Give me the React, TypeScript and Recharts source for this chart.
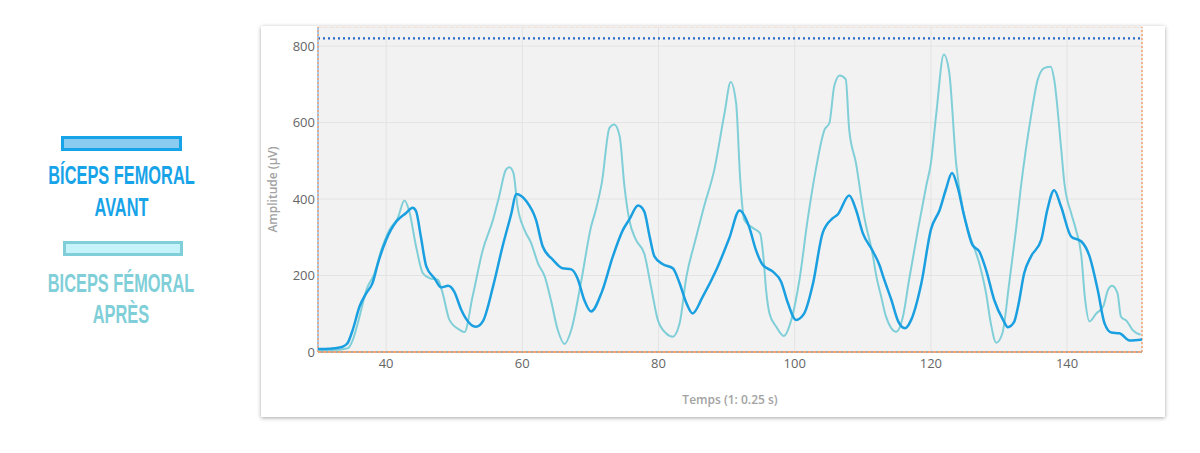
import {
  LineChart,
  Line,
  XAxis,
  YAxis,
  CartesianGrid,
  ReferenceLine,
} from "recharts";

// temps (1 unit = 0.25 s) and amplitude (µV)
const avantTime = [
  30, 31, 32.5, 33.5, 34.3, 35.1, 36.1, 37.1, 38.0, 38.8, 40.0, 41.5, 42.9, 43.9, 44.4,
  45.1, 45.9, 47.1, 48.1, 49.1, 50.0, 51.0, 51.7, 53.2, 54.2, 55.7, 57.1, 58.4, 59.1,
  60.6, 62.0, 63.0, 64.5, 65.9, 67.2, 68.1, 69.1, 70.1, 71.7, 73.3, 74.8, 75.7, 77.0,
  77.9, 78.7, 79.4, 80.6, 82.1, 83.1, 84.1, 85.0, 86.5, 88.5, 90.4, 91.9, 93.3, 94.3,
  95.3, 96.8, 98.0, 99.0, 100.2, 101.4, 102.7, 104.1, 105.6, 106.3, 108.0, 109.0,
  110.0, 111.5, 112.5, 113.0, 114.2, 115.2, 116.2, 117.1, 118.6, 120.0, 121.3, 122.2,
  123.1, 123.9, 124.9, 126.1, 127.1, 128.1, 129.3, 130.6, 131.3, 132.2, 132.8, 133.7,
  134.7, 136.2, 137.1, 138.1, 139.1, 140.6, 142.1, 143.3, 144.5, 145.5, 146.5, 147.7,
  149.2, 151,
];
const avantValue = [
  8, 8, 10, 13, 22, 58, 119, 154, 180, 232, 293, 341, 363, 377, 368,
  302, 224, 193, 169, 173, 158, 112, 88, 66, 80, 171, 276, 363, 413,
  394, 346, 276, 241, 219, 216, 193, 136, 106, 158, 250, 320, 346, 383,
  368, 302, 250, 230, 219, 180, 128, 101, 145, 215, 298, 370, 328, 267,
  228, 210, 184, 128, 84, 101, 180, 311, 350, 359, 409, 372,
  311, 263, 225, 197, 136, 80, 62, 84, 180, 320, 372, 425,
  468, 433, 355, 280, 263, 215, 136, 84, 65, 78, 119, 206,
  250, 293, 372, 423, 381, 302, 289, 250, 162, 75, 51, 49,
  30, 33,
];

const apresTime = [
  30, 32, 34.4, 35.1, 36.1, 37.1, 38.3, 39.3, 40.5, 41.7, 42.7, 43.4, 44.4, 45.4, 46.4,
  47.6, 48.3, 49.3, 50.8, 51.5, 52.7, 54.2, 55.7, 56.6, 57.6, 58.1, 58.7, 59.3, 60.3,
  61.3, 62.3, 63.3, 64.2, 65.2, 66.2, 67.2, 68.6, 70.1, 70.8, 71.7, 72.8, 73.5, 74.3,
  75.0, 75.7, 76.7, 77.9, 78.9, 79.9, 81.1, 82.1, 83.1, 84.1, 85.3, 86.7, 88.2, 89.7,
  90.6, 91.4, 92.0, 92.6, 93.9, 94.9, 95.4, 95.8, 96.3, 97.3, 98.4, 99.5, 100.7, 101.9,
  103.1, 104.4, 105.1, 105.8, 106.6, 107.5, 108.0, 109.0, 110.2, 111.5, 112.0, 112.7,
  113.4, 114.9, 115.9, 116.8, 118.1, 119.3, 120.0, 120.8, 121.9, 122.7, 123.7, 124.7,
  125.6, 127.1, 128.1, 128.8, 129.6, 130.5, 131.5, 132.5, 133.2, 134.7, 135.7, 136.7,
  137.6, 138.1, 139.1, 139.6, 140.6, 141.3, 142.1, 142.6, 143.3, 144.3, 145.3, 146.0,
  146.6, 147.4, 147.9, 148.8, 149.6, 150.8,
];
const apresValue = [
  5, 5, 10, 31, 93, 162, 206, 267, 320, 350, 396, 368, 276, 206, 193,
  189, 154, 84, 58, 52, 145, 267, 346, 407, 477, 483, 468, 381, 320,
  285, 232, 197, 136, 58, 21, 58, 180, 328, 372, 445, 586, 595, 564,
  433, 346, 293, 258, 171, 84, 49, 40, 75, 197, 285, 381, 477, 625,
  706, 650, 451, 345, 324, 311, 250, 162, 101, 66, 42, 84, 189, 346,
  477, 582, 599, 695, 723, 713, 582, 494, 355, 250, 197, 145,
  93, 53, 93, 189, 320, 433, 494, 625, 778, 730, 494, 372,
  311, 232, 154, 75, 24, 49, 180, 320, 429, 617, 713, 743,
  746, 713, 538, 442, 363, 320, 250, 145, 80, 101, 119, 162,
  173, 154, 93, 80, 58, 45,
];

const xTicks = [40, 60, 80, 100, 120, 140];
const yTicks = [0, 200, 400, 600, 800];
const threshold = 820;

const avantData = avantTime.map((t, i) => ({ t, v: avantValue[i] }));
const apresData = apresTime.map((t, i) => ({ t, v: apresValue[i] }));

const AVANT = "#1a9fe0";
const APRES = "#80cfd8";
const ORANGE = "#f4a472";

function YLabel(props: any) {
  const vb = props.viewBox;
  const x = vb.x + 11;
  const y = vb.y + vb.height / 2;
  return (
    <text
      x={x}
      y={y}
      transform={`rotate(-90, ${x}, ${y})`}
      textAnchor="middle"
      dominantBaseline="central"
      fill="#a3a3a3"
      fontSize={12}
      fontWeight={600}
    >
      Amplitude (µV)
    </text>
  );
}

function XLabel(props: any) {
  const vb = props.viewBox;
  return (
    <text
      x={vb.x + vb.width / 2}
      y={vb.y + 47}
      textAnchor="middle"
      dominantBaseline="central"
      fill="#a3a3a3"
      fontSize={12}
      fontWeight={600}
    >
      Temps (1: 0.25 s)
    </text>
  );
}

// condensed caption: a bold sans squeezed horizontally
function Caption({ x, y, color, children }: any) {
  return (
    <g transform={`translate(${x}, ${y}) scale(0.655, 1)`}>
      <text x={0} y={0} textAnchor="middle" fontSize={25} fill={color}>
        {children}
      </text>
    </g>
  );
}

function Legend() {
  return (
    <svg
      width={256}
      height={360}
      style={{ position: "absolute", left: 0, top: 0 }}
      fontFamily="'Liberation Sans', Arial, sans-serif"
      fontWeight={700}
    >
      <rect x={62.5} y={137.5} width={118} height={12} fill="#8acbef" stroke="#17a3e8" strokeWidth={3} />
      <Caption x={121.5} y={184} color="#17a3e8">BÍCEPS FEMORAL</Caption>
      <Caption x={121.5} y={216} color="#17a3e8">AVANT</Caption>
      <rect x={64.5} y={242.5} width={117} height={12} fill="#c6f2f9" stroke="#80cfd8" strokeWidth={3} />
      <Caption x={121} y={292} color="#80cfd8">BICEPS FÉMORAL</Caption>
      <Caption x={121} y={323} color="#80cfd8">APRÈS</Caption>
    </svg>
  );
}

export default function App() {
  return (
    <div
      style={{
        position: "absolute",
        left: 0,
        top: 0,
        width: 1200,
        height: 453,
        background: "#fff",
        fontFamily: "'Open Sans', sans-serif",
      }}
    >
      <Legend />
      {/* chart card */}
      <div
        style={{
          position: "absolute",
          left: 261,
          top: 26,
          width: 904,
          height: 391,
          background: "#fff",
          boxShadow: "0 1px 4px rgba(0,0,0,0.35)",
        }}
      >
        <LineChart
          width={904}
          height={391}
          margin={{ top: 1, right: 23, bottom: 9, left: 0 }}
        >
          <CartesianGrid fill="#f2f2f2" stroke="#e3e3e3" />
          <XAxis
            dataKey="t"
            type="number"
            domain={[30, 151]}
            ticks={xTicks}
            allowDataOverflow
            axisLine={false}
            tickLine={false}
            tickSize={0}
            tickMargin={7}
            height={56}
            tick={{ fill: "#666", fontSize: 13 }}
            label={<XLabel />}
          />
          <YAxis
            type="number"
            domain={[0, 850]}
            ticks={yTicks}
            allowDataOverflow
            axisLine={false}
            tickLine={false}
            tickSize={0}
            tickMargin={3}
            width={57}
            tick={{ fill: "#666", fontSize: 13 }}
            label={<YLabel />}
          />
          <ReferenceLine y={850} stroke="#fbe0cf" strokeDasharray="3 3" />
          <ReferenceLine y={threshold} stroke="#2468c8" strokeWidth={2.2} strokeDasharray="2 3" />
          <ReferenceLine x={30} stroke="#8fbde8" strokeWidth={1.5} />
          <ReferenceLine x={30} stroke={ORANGE} strokeWidth={1.5} strokeDasharray="2 2" />
          <ReferenceLine x={151} stroke={ORANGE} strokeWidth={1.5} strokeDasharray="2 2" />
          <Line
            data={apresData}
            dataKey="v"
            type="monotone"
            stroke={APRES}
            strokeWidth={2}
            dot={false}
            isAnimationActive={false}
          />
          <Line
            data={avantData}
            dataKey="v"
            type="monotone"
            stroke={AVANT}
            strokeWidth={2.5}
            dot={false}
            isAnimationActive={false}
          />
          <ReferenceLine y={0} stroke="#a9a9a9" strokeWidth={2} />
          <ReferenceLine y={0} stroke={ORANGE} strokeWidth={2} strokeDasharray="3 2" />
        </LineChart>
      </div>
    </div>
  );
}
